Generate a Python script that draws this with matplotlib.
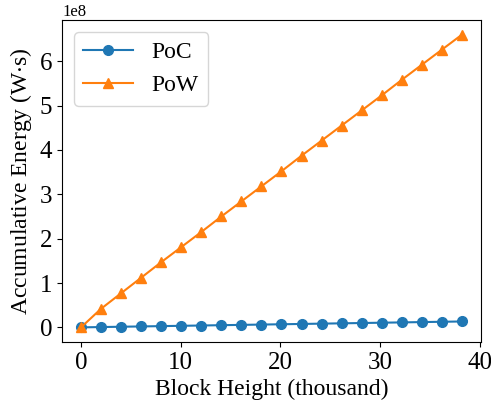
import matplotlib
matplotlib.use("Agg")
import matplotlib.pyplot as plt

plt.rcParams["font.family"] = ["Liberation Serif", "DejaVu Serif"]
plt.rcParams["mathtext.fontset"] = "stix"

height = [0, 2.01, 4.02, 6.03, 8.04, 10.05, 12.06, 14.07, 16.08, 18.09,
          20.1, 22.11, 24.12, 26.13, 28.14, 30.15, 32.16, 34.17, 36.18, 38.2]
poc = [0.0, 0.007e8, 0.014e8, 0.021e8, 0.028e8, 0.035e8, 0.042e8, 0.049e8, 0.056e8, 0.063e8,
       0.070e8, 0.077e8, 0.084e8, 0.091e8, 0.098e8, 0.105e8, 0.112e8, 0.119e8, 0.126e8, 0.133e8]
pow_ = [0.0, 0.42e8, 0.77e8, 1.12e8, 1.47e8, 1.81e8, 2.15e8, 2.50e8, 2.84e8, 3.18e8,
        3.52e8, 3.87e8, 4.21e8, 4.55e8, 4.89e8, 5.23e8, 5.58e8, 5.92e8, 6.26e8, 6.60e8]

fig = plt.figure(figsize=(4.91, 4.07), dpi=100)
ax = fig.add_axes([62 / 491, 1 - 342 / 407, 419 / 491, 322 / 407])
ax.plot(height, poc, marker="o", markersize=7, label="PoC")
ax.plot(height, pow_, marker="^", markersize=7, label="PoW")
ax.set_xlabel("Block Height (thousand)", fontsize=17)
ax.set_ylabel("Accumulative Energy (W$\\cdot$s)", fontsize=17)
ax.tick_params(labelsize=18)
ax.set_xticks([0, 10, 20, 30, 40])
ax.set_yticks([0, 1e8, 2e8, 3e8, 4e8, 5e8, 6e8])
ax.legend(fontsize=17, loc="upper left", handlelength=2.1)
ax.yaxis.get_offset_text().set_fontsize(12)
fig.savefig("out.png")
